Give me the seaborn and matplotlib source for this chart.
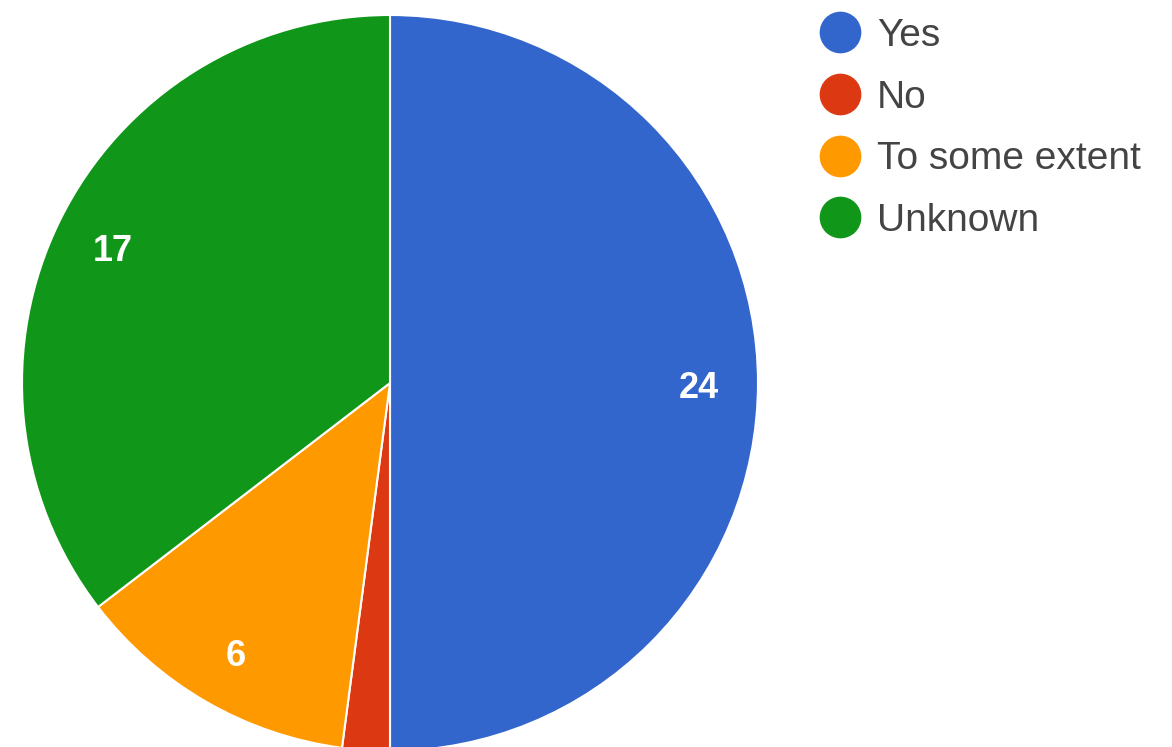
import matplotlib
matplotlib.use("Agg")
import matplotlib.pyplot as plt
from matplotlib.lines import Line2D
import seaborn as sns

# -----------------------------
# Data
# -----------------------------
categories = ["Yes", "No", "To some extent", "Unknown"]
counts = [24, 1, 6, 17]
colors = sns.color_palette(["#3366CC", "#DC3912", "#FF9900", "#109618"])

sns.set_theme(style="white")
plt.rcParams["font.family"] = ["Liberation Sans", "DejaVu Sans"]

W, H = 1172, 747
fig = plt.figure(figsize=(W / 100, H / 100), dpi=100)

# square axes so the pie sits where it does in the reference
cx, cy, r = 390, 383, 368
ax = fig.add_axes([(cx - r) / W, (H - cy - r) / H, 2 * r / W, 2 * r / H])


def label_fmt(pct):
    val = int(round(pct * sum(counts) / 100.0))
    return f"{val}" if val > 1 else ""


wedges, _, autotexts = ax.pie(
    counts,
    colors=colors,
    startangle=90,
    counterclock=False,
    autopct=label_fmt,
    pctdistance=0.84,
    radius=1.0,
    wedgeprops=dict(edgecolor="white", linewidth=1.5),
)
for t in autotexts:
    t.set_color("white")
    t.set_fontsize(26)
    t.set_fontweight("bold")
    x, y = t.get_position()
    t.set_position((x, y - 0.015))  # numbers sit a touch lower in the original
ax.set_xlim(-1, 1)
ax.set_ylim(-1, 1)
ax.axis("off")

# -----------------------------
# Legend
# -----------------------------
handles = [
    Line2D([0], [0], marker="o", linestyle="", markersize=29,
           markerfacecolor=c, markeredgecolor=c)
    for c in colors
]
fig.legend(
    handles, categories,
    loc="upper left",
    bbox_to_anchor=(820 / W, 1 - 18 / H),
    frameon=False,
    fontsize=28,
    labelcolor="#444444",
    handlelength=1.03,
    handletextpad=0.44,
    labelspacing=0.66,
    borderpad=0,
    borderaxespad=0,
)

plt.savefig("out.png", dpi=100)
plt.close()
